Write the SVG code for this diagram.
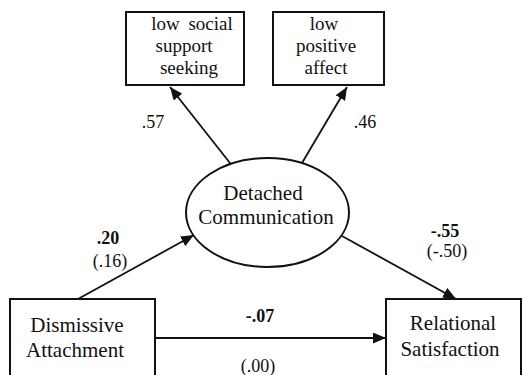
<svg xmlns="http://www.w3.org/2000/svg" width="523" height="375" viewBox="0 0 523 375">
<style>
.box{fill:#fff;stroke:#111;stroke-width:2}
.lbl{font-family:"Liberation Serif","Times New Roman",serif;font-size:21px;fill:#111;text-anchor:middle}
.sm{font-family:"Liberation Serif","Times New Roman",serif;font-size:19px;fill:#111;text-anchor:middle}
.num{font-family:"Liberation Serif","Times New Roman",serif;font-size:18px;fill:#111;text-anchor:middle}
.b{font-weight:bold}
.edge{stroke:#111;stroke-width:1.8;fill:none;marker-end:url(#ah)}
</style>
<defs>
<marker id="ah" markerUnits="userSpaceOnUse" markerWidth="13" markerHeight="11" refX="13" refY="5.5" orient="auto">
<path d="M0,0 L13,5.5 L0,11 z" fill="#111"/>
</marker>
</defs>
<rect width="523" height="375" fill="#fff"/>
<g id="connectors">
<line class="edge" x1="230" y1="163" x2="170" y2="87"/>
<line class="edge" x1="302" y1="163" x2="347" y2="87"/>
<line class="edge" x1="78" y1="299" x2="194" y2="235"/>
<line class="edge" x1="342" y1="236" x2="456" y2="299"/>
<line class="edge" x1="155" y1="338" x2="386" y2="338"/>
</g>
<g id="labels">
<text class="num" x="153" y="128">.57</text>
<text class="num" x="365" y="128">.46</text>
<text class="num b" x="108" y="244">.20</text>
<text class="num" x="110" y="267">(.16)</text>
<text class="num b" x="445" y="237">-.55</text>
<text class="num" x="447" y="257">(-.50)</text>
<text class="num b" x="260" y="322">-.07</text>
<text class="num" x="258" y="372">(.00)</text>
</g>
<g id="low-social-support-seeking">
<rect class="box" x="126" y="12" width="118" height="73"/>
<text class="sm" x="192" y="30" word-spacing="4">low social</text>
<text class="sm" x="184" y="52">support</text>
<text class="sm" x="189" y="74">seeking</text>
</g>
<g id="low-positive-affect">
<rect class="box" x="273" y="12" width="111" height="73"/>
<text class="sm" x="324" y="30">low</text>
<text class="sm" x="326" y="52">positive</text>
<text class="sm" x="326" y="74">affect</text>
</g>
<g id="detached-communication">
<ellipse class="box" cx="267.5" cy="212.5" rx="81.5" ry="54.5"/>
<text class="lbl" x="263" y="200">Detached</text>
<text class="lbl" x="266" y="224">Communication</text>
</g>
<g id="dismissive-attachment">
<rect class="box" x="10" y="299" width="145" height="90"/>
<text class="lbl" x="77" y="332">Dismissive</text>
<text class="lbl" x="75" y="357">Attachment</text>
</g>
<g id="relational-satisfaction">
<rect class="box" x="386" y="299" width="135" height="90"/>
<text class="lbl" x="453" y="330">Relational</text>
<text class="lbl" x="450" y="356">Satisfaction</text>
</g>
</svg>
